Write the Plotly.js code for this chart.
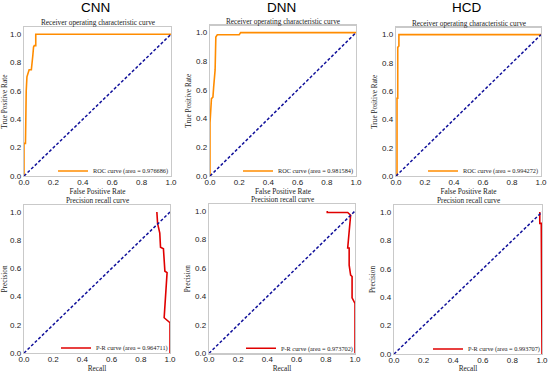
<!DOCTYPE html>
<html>
<head>
<meta charset="utf-8">
<script src="https://cdn.plot.ly/plotly-3.0.1.min.js"></script>
<style>html,body{margin:0;padding:0;background:#fff;}#chart{width:550px;height:373px;}</style>
</head>
<body>
<div id="chart"></div>
<script>
// ---- data ----
const models = ["CNN", "DNN", "HCD"];

const cnnRocFpr = [0, 0, 0.01, 0.01, 0.015, 0.02, 0.03, 0.035, 0.05, 0.055, 0.06, 0.065, 0.07, 0.08, 0.08, 1.0];
const cnnRocTpr = [0, 0.23, 0.23, 0.57, 0.60, 0.70, 0.73, 0.75, 0.75, 0.84, 0.85, 0.91, 0.92, 0.92, 1.0, 1.0];
const cnnRocArea = "0.976686";

const dnnRocFpr = [0, 0, 0.01, 0.02, 0.025, 0.03, 0.035, 0.04, 0.05, 0.20, 0.21, 1.0];
const dnnRocTpr = [0, 0.37, 0.54, 0.55, 0.62, 0.73, 0.74, 0.97, 0.985, 0.985, 1.0, 1.0];
const dnnRocArea = "0.981584";

const hcdRocFpr = [0, 0.007, 0.007, 0.012, 0.012, 0.02, 0.02, 1.0];
const hcdRocTpr = [0, 0, 0.55, 0.55, 0.91, 0.92, 1.0, 1.0];
const hcdRocArea = "0.994272";

const cnnPrRecall = [0.91, 0.915, 0.93, 0.935, 0.955, 0.96, 0.965, 0.98, 0.96, 1.0, 1.0];
const cnnPrPrecision = [1.0, 0.92, 0.85, 0.75, 0.74, 0.66, 0.58, 0.57, 0.25, 0.215, 0.0];
const cnnPrArea = "0.964711";

const dnnPrRecall = [0.81, 0.81, 0.95, 0.97, 0.95, 0.96, 0.96, 0.97, 0.98, 0.98, 1.0, 1.0];
const dnnPrPrecision = [1.0, 0.99, 0.99, 0.97, 0.74, 0.74, 0.62, 0.55, 0.54, 0.39, 0.35, 0.0];
const dnnPrArea = "0.973702";

const hcdPrRecall = [0.985, 0.985, 0.995, 0.995, 1.0, 1.0];
const hcdPrPrecision = [1.0, 0.92, 0.92, 0.55, 0.55, 0.0];
const hcdPrArea = "0.993707";

const chanceX = [0, 1];
const chanceY = [0, 1];

const axisTicks = [0.0, 0.2, 0.4, 0.6, 0.8, 1.0];
const axisTickText = ["0.0", "0.2", "0.4", "0.6", "0.8", "1.0"];

const rocTitle = "Receiver operating characteristic curve";
const prTitle = "Precision recall curve";
const rocXLabel = "False Positive Rate", rocYLabel = "True Positive Rate";
const prXLabel = "Recall", prYLabel = "Precision";

// ---- layout geometry (pixels) ----
const W = 550, H = 373;
// [left, right, top(y=1.05), bottom(y=0)]
const boxes = [
  [24, 171, 27.2, 176],
  [210, 356, 25.5, 176],
  [396, 541, 27.6, 176],
  [24, 170, 205, 353],
  [209, 355, 203.9, 353.3],
  [394, 542, 204.9, 354]
];

const SERIF = "Liberation Serif, Times New Roman, serif";
const SANS = "Liberation Sans, Arial, sans-serif";

const panels = [
  {x: cnnRocFpr, y: cnnRocTpr, name: "ROC curve (area = " + cnnRocArea + ")", color: "#ff8c00", title: rocTitle, xl: rocXLabel, yl: rocYLabel},
  {x: dnnRocFpr, y: dnnRocTpr, name: "ROC curve (area = " + dnnRocArea + ")", color: "#ff8c00", title: rocTitle, xl: rocXLabel, yl: rocYLabel},
  {x: hcdRocFpr, y: hcdRocTpr, name: "ROC curve (area = " + hcdRocArea + ")", color: "#ff8c00", title: rocTitle, xl: rocXLabel, yl: rocYLabel},
  {x: cnnPrRecall, y: cnnPrPrecision, name: "P-R curve (area = " + cnnPrArea + ")", color: "#e00000", title: prTitle, xl: prXLabel, yl: prYLabel},
  {x: dnnPrRecall, y: dnnPrPrecision, name: "P-R curve (area = " + dnnPrArea + ")", color: "#e00000", title: prTitle, xl: prXLabel, yl: prYLabel},
  {x: hcdPrRecall, y: hcdPrPrecision, name: "P-R curve (area = " + hcdPrArea + ")", color: "#e00000", title: prTitle, xl: prXLabel, yl: prYLabel}
];

const traces = [];
const layout = {
  width: W, height: H,
  margin: {l: 0, r: 0, t: 0, b: 0},
  paper_bgcolor: "#ffffff",
  plot_bgcolor: "#ffffff",
  showlegend: true,
  annotations: [],
  font: {family: SANS, size: 8, color: "#222"}
};

panels.forEach((p, i) => {
  const n = i + 1;
  const xa = n === 1 ? "x" : "x" + n;
  const ya = n === 1 ? "y" : "y" + n;
  const leg = n === 1 ? "legend" : "legend" + n;
  const [l, r, t, b] = boxes[i];

  traces.push({
    type: "scatter", mode: "lines", x: p.x, y: p.y, name: p.name,
    xaxis: xa, yaxis: ya, legend: leg,
    line: {color: p.color, width: 1.6, shape: "linear"}
  });
  traces.push({
    type: "scatter", mode: "lines", x: chanceX, y: chanceY,
    xaxis: xa, yaxis: ya, showlegend: false, hoverinfo: "skip",
    line: {color: "#10109a", width: 1.5, dash: "3px,2px"}
  });

  const axCommon = {
    showgrid: false, zeroline: false, showline: true, mirror: true,
    linecolor: "#c9c9c9", linewidth: 1.2, ticks: "",
    tickvals: axisTicks, ticktext: axisTickText,
    tickfont: {family: SANS, size: 8, color: "#222"},
    fixedrange: true
  };
  layout["xaxis" + (n === 1 ? "" : n)] = Object.assign({}, axCommon, {
    domain: [l / W, r / W], range: [0, 1], anchor: ya,
    ticklabelstandoff: -2,
    title: {text: p.xl, font: {family: SERIF, size: 7.3, color: "#222"}, standoff: 0}
  });
  layout["yaxis" + (n === 1 ? "" : n)] = Object.assign({}, axCommon, {
    domain: [1 - b / H, 1 - t / H], range: [0, 1.05], anchor: xa,
    title: {text: p.yl, font: {family: SERIF, size: 7.3, color: "#222"}, standoff: 3}
  });
  layout[leg] = {
    x: (r + 3) / W, xanchor: "right",
    y: 1 - (b + 9.5) / H, yanchor: "bottom",
    bgcolor: "rgba(0,0,0,0)", borderwidth: 0,
    font: {family: SERIF, size: 6.3, color: "#222"},
    itemwidth: 30
  };
  layout.annotations.push({
    text: p.title, xref: "paper", yref: "paper",
    x: (l + r) / 2 / W, y: 1 - (t - 4.3) / H, xanchor: "center", yanchor: "middle",
    showarrow: false, font: {family: SERIF, size: 7.3, color: "#222"}
  });
});

models.forEach((m, j) => {
  const [l, r] = boxes[j];
  layout.annotations.push({
    text: m, xref: "paper", yref: "paper",
    x: (l + r) / 2 / W - 2 / W, y: 1 - 7.5 / H, xanchor: "center", yanchor: "middle",
    showarrow: false, font: {family: SANS, size: 13.5, color: "#000"}
  });
});

Plotly.newPlot("chart", traces, layout, {staticPlot: true, displayModeBar: false});
</script>
</body>
</html>
